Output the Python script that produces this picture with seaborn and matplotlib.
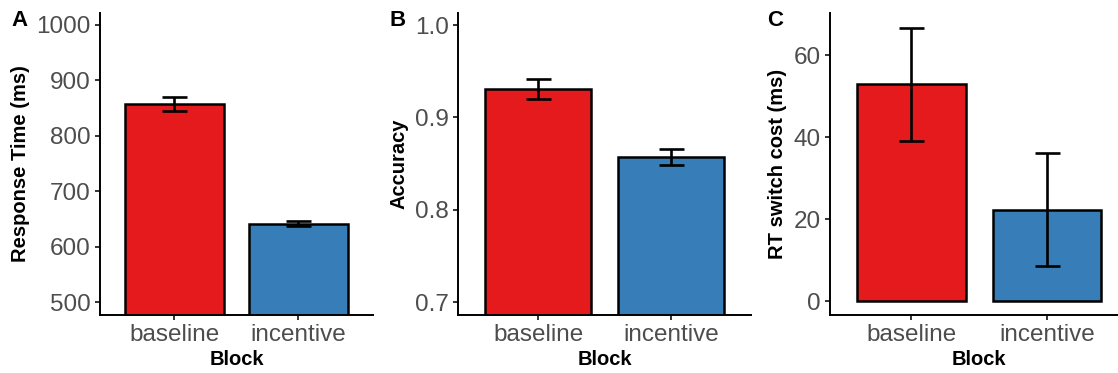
import seaborn as sns
import pandas as pd
import matplotlib.pyplot as plt

blocks = ["baseline", "incentive"]
rt_mean = [857.0, 641.5]
rt_se = [12.5, 4.0]
acc_mean = [0.931, 0.857]
acc_se = [0.011, 0.0085]
cost_mean = [53.0, 22.3]
cost_se = [13.8, 13.8]
colors = ["#E41A1C", "#377EB8"]

df = pd.DataFrame({"Block": blocks, "RT": rt_mean, "Acc": acc_mean, "Cost": cost_mean})

sns.set_theme(style="ticks")
plt.rcParams['font.family'] = ['Liberation Sans', 'DejaVu Sans']
plt.rcParams['text.color'] = 'black'
plt.rcParams['axes.labelcolor'] = 'black'

fig = plt.figure(figsize=(11.18, 3.73), dpi=100)
W, H = 1118, 373
bottom = 1 - 315 / H
height = (315 - 13) / H
axA = fig.add_axes([100 / W, bottom, 272.8 / W, height])
axB = fig.add_axes([458.3 / W, bottom, 292.6 / W, height])
axC = fig.add_axes([830 / W, bottom, 298.5 / W, height])


def panel(ax, col, means, se, ylabel, ylim, yticks, fmt):
    sns.barplot(data=df, x="Block", y=col, hue="Block", palette=colors, width=0.8,
                saturation=1, edgecolor="black", linewidth=1.8, errorbar=None,
                legend=False, ax=ax)
    ax.errorbar(x=[0, 1], y=means, yerr=se, fmt="none", ecolor="black",
                elinewidth=1.9, capsize=9, capthick=1.9, zorder=5)
    ax.set_xlim(-0.6, 1.6)
    ax.set_ylim(*ylim)
    ax.set_yticks(yticks)
    ax.set_yticklabels([fmt % t for t in yticks])
    ax.set_xlabel("Block", fontsize=14.5, fontweight="bold", labelpad=3, color="black")
    ax.set_ylabel(ylabel, fontsize=14.5, fontweight="bold", labelpad=5, color="black")
    for s in ["top", "right"]:
        ax.spines[s].set_visible(False)
    for s in ["left", "bottom"]:
        ax.spines[s].set_linewidth(1.4)
        ax.spines[s].set_color("black")
    ax.tick_params(axis="both", labelsize=17.5, colors="#333333", width=1.4,
                   length=3.6, labelcolor="#4D4D4D", pad=3)


panel(axA, "RT", rt_mean, rt_se, "Response Time (ms)", (476.6, 1021.6),
      [500, 600, 700, 800, 900, 1000], "%d")
panel(axB, "Acc", acc_mean, acc_se, "Accuracy", (0.686, 1.013),
      [0.7, 0.8, 0.9, 1.0], "%.1f")
panel(axC, "Cost", cost_mean, cost_se, "RT switch cost (ms)", (-3.35, 70.35),
      [0, 20, 40, 60], "%d")

for lab, x in [("A", 19), ("B", 398), ("C", 775)]:
    fig.text(x / W, 1 - 21 / H, lab, fontsize=16, fontweight="bold",
             ha="center", va="center", color="black")

fig.savefig("out.png", dpi=100)
